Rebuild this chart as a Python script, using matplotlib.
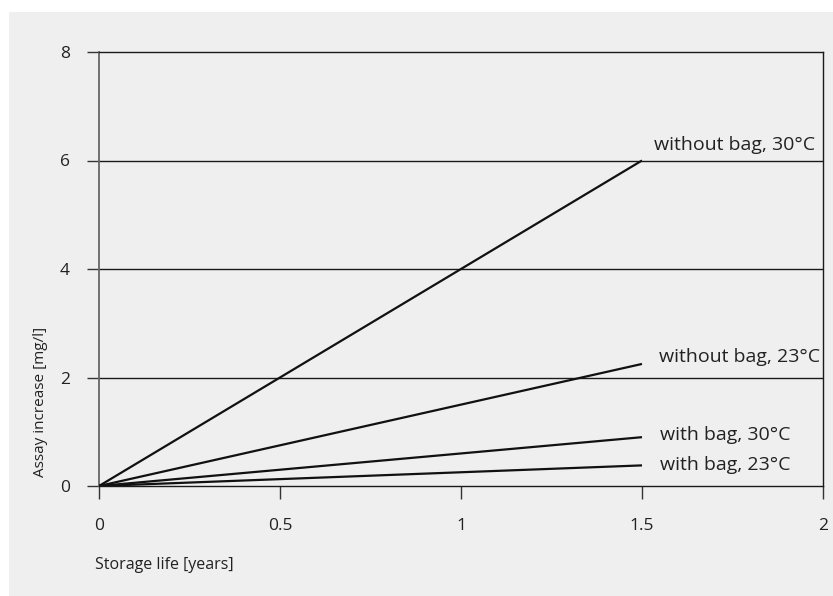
import matplotlib
matplotlib.use("Agg")
import matplotlib.pyplot as plt
from matplotlib.patches import Rectangle

plt.rcParams['font.family'] = ['Open Sans', 'DejaVu Sans']

years = [0, 1.5]
series_labels = ["without bag, 30°C", "without bag, 23°C", "with bag, 30°C", "with bag, 23°C"]
series_values = [
    [0, 6.0],
    [0, 2.25],
    [0, 0.9],
    [0, 0.38],
]
label_y = [6.29, 2.38, 0.94, 0.39]
x_ticks = [0, 0.5, 1, 1.5, 2]
x_tick_labels = ["0", "0.5", "1", "1.5", "2"]
y_ticks = [0, 2, 4, 6, 8]

W, H = 833, 596
fig = plt.figure(figsize=(W / 100, H / 100), dpi=100)
fig.patch.set_facecolor("white")
fig.patches.append(Rectangle((9 / W, 0), 1 - 9 / W, 1 - 12 / H, transform=fig.transFigure,
                             facecolor="#efefef", edgecolor="none", zorder=-10))

ax = fig.add_axes([99 / W, (H - 486) / H, (823 - 99) / W, (486 - 52) / H])
ax.set_facecolor("none")
ax.set_xlim(0, 2)
ax.set_ylim(0, 8)

for yv in y_ticks[1:-1]:
    ax.axhline(yv, color="#1a1a1a", lw=1.0, zorder=1)

for vals in series_values:
    ax.plot(years, vals, color="#111111", lw=1.6, solid_capstyle="butt", zorder=3)

label_pos = {
    "without bag, 30°C": (1.979, "right"),
    "without bag, 23°C": (1.993, "right"),
    "with bag, 30°C": (1.551, "left"),
    "with bag, 23°C": (1.551, "left"),
}
for lab, ly in zip(series_labels, label_y):
    lx, ha = label_pos[lab]
    ax.text(lx, ly, lab, ha=ha, va="center", fontsize=14, color="#222222")

ax.set_xticks(x_ticks)
ax.set_xticklabels(x_tick_labels)
ax.set_yticks(y_ticks)
ax.tick_params(axis="both", direction="out", length=9, width=1.0, color="#333333",
               labelsize=12.5, labelcolor="#222222")
ax.tick_params(axis="x", pad=14)
ax.tick_params(axis="y", pad=12)

for side in ["top", "right", "bottom"]:
    ax.spines[side].set_color("#1a1a1a")
    ax.spines[side].set_linewidth(1.0)
ax.spines["left"].set_color("#666666")
ax.spines["left"].set_linewidth(1.3)

ax.text(-0.0055, -0.182, "Storage life [years]", transform=ax.transAxes,
        ha="left", va="center", fontsize=11.5, color="#222222")
ax.text(-0.081, 0.02, "Assay increase [mg/l]", transform=ax.transAxes, rotation=90,
        ha="center", va="bottom", fontsize=11, color="#222222")

fig.savefig("out.png", dpi=100)
